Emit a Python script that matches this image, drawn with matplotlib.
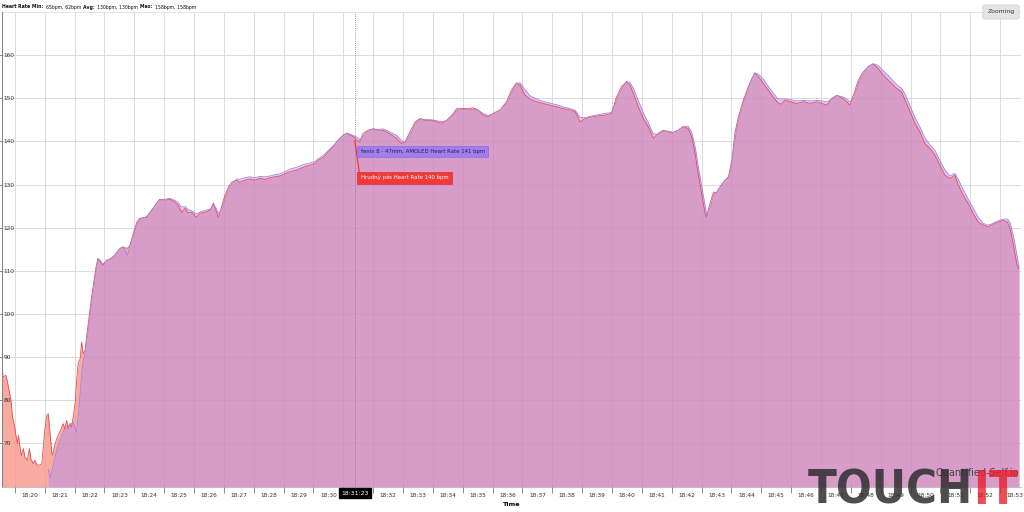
import matplotlib
matplotlib.use("Agg")
import matplotlib.pyplot as plt
from matplotlib.transforms import blended_transform_factory

# ---------------- data (seconds after 18:20:00, bpm) ----------------
chest_sec = [-26, -24, -18, -13, -8, -5, -1, 2, 5, 7, 10, 13, 17, 20, 25, 29, 32, 37, 40, 44,
             50, 54, 57, 60, 64, 67, 70, 74, 76, 79, 84, 90, 97, 100, 104, 107, 111, 114, 117,
             121, 124, 127, 131, 134, 137, 141, 144, 149, 154, 159, 163, 167, 171, 177, 184,
             191, 198, 204, 211, 218, 226,
             231, 238, 245, 251, 265, 275, 285, 291, 302, 312, 322, 328, 335, 342, 348, 355,
             365, 372, 382, 392, 399, 404, 409, 415, 422, 429, 436, 446, 452, 462, 472, 482,
             492, 503, 513, 523, 533, 543, 553, 566, 579, 593, 603, 610, 620, 630, 640, 650,
             660, 667, 673, 680, 687, 693, 700, 710, 720, 730, 740, 747, 757, 767, 777, 784,
             794, 804, 814, 824, 838, 848, 858, 868, 878, 888, 901, 911, 921, 931, 941, 951,
             961, 975, 988, 998, 1008, 1015, 1025, 1035, 1049, 1062, 1075, 1089, 1102, 1116,
             1126, 1136, 1146, 1159, 1172, 1186, 1199, 1209, 1219, 1229, 1236, 1243, 1253,
             1263, 1273, 1283, 1293, 1303, 1313, 1323, 1333, 1343, 1353, 1360, 1367, 1373,
             1380, 1387, 1390, 1397, 1404, 1410, 1417, 1427, 1434, 1441, 1447, 1454, 1464,
             1474, 1481, 1487, 1494, 1504, 1514, 1524, 1533, 1541, 1547, 1558, 1571, 1585,
             1598, 1612, 1622, 1632, 1642, 1652, 1662, 1672, 1678, 1685, 1695, 1705, 1715,
             1725, 1735, 1745, 1759, 1772, 1782, 1789, 1799, 1809, 1819, 1829, 1839, 1849,
             1859, 1869, 1879, 1889, 1896, 1906, 1916, 1926, 1936, 1946, 1956, 1966, 1976,
             1986, 1995, 2000, 2007, 2014, 2018]
chest_bpm = [88.0, 85.4, 85.8, 83.1, 80.0, 76.1, 74.2, 71.9, 70.0, 71.9, 69.2, 67.2, 68.8, 66.8,
             66.1, 68.8, 66.4, 65.3, 66.1, 65.0, 65.0, 65.3, 69.2, 73.0, 76.5, 76.9, 73.0, 68.0,
             67.2, 69.2, 71.1, 72.6, 74.6, 73.4, 75.3, 73.4, 74.6, 73.8, 76.1, 79.2, 84.6, 88.5,
             89.6, 93.5, 90.8, 91.6, 94.7, 99.3, 103.9, 107.8, 110.9, 112.9, 112.1, 111.3, 112.5,
             112.6, 113.2, 114.0, 115.2, 115.5, 115.2,
             115.9, 118.7, 121.3, 122.2, 122.4, 124.0, 125.7, 126.6, 126.4, 126.6, 125.9, 125.2,
             123.6, 124.5, 123.4, 123.6, 122.4, 123.4, 123.6, 124.0, 125.7, 124.0, 122.4, 124.8,
             127.5, 129.4, 130.6, 131.0, 130.5, 131.0, 131.3, 131.0, 131.5, 131.2, 131.6, 131.8,
             132.0, 132.5, 133.0, 133.3, 134.0, 134.5, 134.9, 135.7, 136.3, 137.6, 138.8, 140.3,
             141.5, 141.9, 141.5, 141.1, 140.3, 139.9, 141.9, 142.6, 142.9, 142.6, 142.6, 142.2,
             141.5, 140.7, 139.5, 139.9, 142.2, 144.5, 145.3, 144.9, 144.9, 144.5, 144.2, 144.9,
             146.1, 147.6, 147.6, 147.6, 147.8, 147.3, 146.1, 145.7, 146.5, 147.3, 149.2, 151.9,
             153.6, 153.1, 150.8, 149.8, 149.2, 148.8, 148.4, 148.0, 147.6, 147.3, 146.9, 144.5,
             145.3, 145.7, 145.9, 146.1, 146.5, 150.3, 152.7, 153.8, 153.1, 151.1, 148.0, 145.3,
             143.4, 140.7, 141.9, 142.6, 142.2, 142.0, 142.6, 143.4, 143.0, 141.1, 137.2, 132.6,
             127.9, 123.3, 122.5, 125.6, 128.3, 128.0, 129.5, 131.0, 131.8, 135.7, 141.9, 145.7,
             149.6, 152.7, 154.6, 155.8, 155.0, 153.5, 151.9, 150.3, 149.0, 148.6, 149.6, 149.2,
             148.8, 149.2, 148.8, 149.2, 148.8, 148.4, 150.0, 150.7, 150.1, 149.2, 148.4, 150.7,
             154.2, 156.1, 157.3, 158.0, 156.9, 155.4, 153.8, 152.3, 151.5, 149.6, 146.9, 144.2,
             142.2, 139.5, 138.4, 136.8, 134.5, 132.2, 131.4, 132.2, 129.9, 127.5, 125.6, 123.3,
             121.3, 120.6, 120.2, 120.9, 121.3, 121.7, 121.3, 119.8, 115.9, 111.3, 110.5]

fenix_sec = [67, 71, 76, 84, 90, 97, 104, 111, 117, 121, 124, 127, 131, 134, 137, 141, 144, 149,
             154, 159, 163, 167, 171, 177, 184, 191, 198, 204, 211, 218, 226,
             231, 238, 245, 251, 265, 275, 285, 291, 302, 312, 322, 328, 335, 342, 348, 355,
             365, 372, 382, 392, 399, 404, 409, 415, 422, 429, 436, 446, 452, 462, 472, 482,
             492, 503, 513, 523, 533, 543, 553, 566, 579, 593, 603, 610, 620, 630, 640, 650,
             660, 667, 673, 680, 687, 693, 700, 710, 720, 730, 740, 747, 757, 767, 777, 784,
             794, 804, 814, 824, 838, 848, 858, 868, 878, 888, 901, 911, 921, 931, 941, 951,
             961, 975, 988, 998, 1008, 1015, 1025, 1035, 1049, 1062, 1075, 1089, 1102, 1116,
             1126, 1136, 1146, 1159, 1172, 1186, 1199, 1209, 1219, 1229, 1236, 1243, 1253,
             1263, 1273, 1283, 1293, 1303, 1313, 1323, 1333, 1343, 1353, 1360, 1367, 1373,
             1380, 1387, 1390, 1397, 1404, 1410, 1417, 1427, 1434, 1441, 1447, 1454, 1464,
             1474, 1481, 1487, 1494, 1504, 1514, 1524, 1533, 1541, 1547, 1558, 1571, 1585,
             1598, 1612, 1622, 1632, 1642, 1652, 1662, 1672, 1678, 1685, 1695, 1705, 1715,
             1725, 1735, 1745, 1759, 1772, 1782, 1789, 1799, 1809, 1819, 1829, 1839, 1849,
             1859, 1869, 1879, 1889, 1896, 1906, 1916, 1926, 1936, 1946, 1956, 1966, 1976,
             1986, 1995, 2000, 2007, 2014, 2018]
fenix_bpm = [64.0, 62.0, 64.5, 68.5, 70.5, 72.8, 73.8, 74.4, 75.0, 73.5, 72.6, 76.5, 81.5, 86.0,
             89.0, 91.0, 93.5, 98.0, 102.5, 106.5, 110.0, 112.8, 112.5, 111.5, 112.3, 112.8,
             113.4, 114.2, 115.2, 115.6, 113.6,
             115.8, 118.2, 120.8, 122.0, 122.6, 124.2, 125.5, 126.4, 126.6, 126.8, 126.3, 125.8,
             124.8, 124.9, 124.2, 123.9, 123.2, 123.6, 124.0, 124.3, 125.2, 124.6, 123.4, 124.2,
             126.6, 128.8, 130.2, 131.3, 131.2, 131.6, 131.8, 131.6, 131.9, 131.8, 132.0, 132.3,
             132.5, 133.0, 133.6, 134.0, 134.6, 135.0, 135.4, 136.0, 136.8, 137.9, 139.0, 140.4,
             141.5, 141.9, 141.7, 141.4, 141.0, 140.4, 141.2, 142.4, 142.9, 142.8, 142.9, 142.6,
             142.0, 141.4, 140.2, 139.6, 141.4, 144.0, 145.2, 145.1, 145.0, 144.8, 144.6, 144.8,
             145.8, 147.2, 147.4, 147.3, 147.5, 147.2, 146.5, 146.0, 146.4, 147.2, 148.8, 151.2,
             153.4, 153.6, 152.0, 150.6, 149.8, 149.3, 148.9, 148.5, 148.0, 147.6, 147.2, 145.6,
             145.5, 145.9, 146.2, 146.5, 146.7, 149.4, 152.2, 153.9, 153.7, 152.3, 149.4, 146.6,
             144.3, 141.8, 141.6, 142.4, 142.4, 142.1, 142.6, 143.5, 143.5, 142.2, 138.8, 134.4,
             129.8, 125.2, 123.2, 124.4, 127.6, 128.2, 129.4, 131.0, 131.6, 134.6, 140.5, 144.9,
             149.0, 152.2, 154.4, 155.9, 155.6, 154.4, 152.8, 151.2, 149.9, 149.8, 149.9, 149.7,
             149.4, 149.5, 149.4, 149.5, 149.4, 149.2, 149.8, 150.6, 150.4, 149.8, 149.2, 150.0,
             153.4, 155.8, 157.4, 158.0, 157.6, 156.4, 154.8, 153.2, 152.3, 151.0, 148.2, 145.5,
             143.3, 140.8, 139.2, 137.9, 135.6, 133.4, 132.0, 132.6, 131.2, 128.8, 126.6, 124.5,
             122.4, 121.0, 120.6, 121.0, 121.6, 122.0, 122.0, 121.2, 118.0, 113.5, 111.0]

minute_ticks = list(range(20, 54))          # 18:20 ... 18:53
y_ticks = [70, 80, 90, 100, 110, 120, 130, 140, 150, 160]
cursor_sec = 683                              # 18:31:23
cursor_label = "18:31:23"
fenix_label = "fenix 8 - 47mm, AMOLED Heart Rate 141 bpm"
chest_label = "Hrudný pás Heart Rate 140 bpm"
title_parts = [("Heart Rate ", "bold"), ("Min: ", "bold"), ("65bpm, 62bpm ", "normal"),
               ("Avg: ", "bold"), ("130bpm, 130bpm ", "normal"), ("Max: ", "bold"),
               ("158bpm, 158bpm", "normal")]

# ---------------- figure ----------------
plt.rcParams['font.family'] = ['DejaVu Sans']
W, H = 1024, 512
fig = plt.figure(figsize=(W / 100, H / 100), dpi=100)
ax = fig.add_axes([2 / W, 1 - 487 / H, (1021 - 2) / W, (487 - 12) / H])

to_min = lambda s: 20 + s / 60.0
cx = [to_min(s) for s in chest_sec]
fx = [to_min(s) for s in fenix_sec]

YB = 59.9
# grid underneath (visible on white background)
for m in minute_ticks:
    ax.axvline(m, color="#e4e4e4", lw=0.7, zorder=0.5)
for v in y_ticks + [170]:
    ax.axhline(v, color="#e4e4e4", lw=0.7, zorder=0.5)

ax.fill_between(cx, chest_bpm, YB, color="#f9aba2", lw=0, zorder=1.0)
ax.fill_between(fx, fenix_bpm, YB, color="#b98ff0", alpha=0.5, lw=0, zorder=1.1)
ax.plot(cx, chest_bpm, color="#ec4c50", lw=0.6, zorder=1.5)
ax.plot(fx, fenix_bpm, color="#9a88e6", lw=0.6, zorder=1.6)

ax.set_xlim(to_min(-26), to_min(2022))
ax.set_ylim(YB, 170)

# ticks (faint grid on top of the fills)
ax.set_xticks(minute_ticks)
ax.set_xticklabels([])
ax.set_xticks([m + 0.5 for m in minute_ticks], minor=True)
ax.set_xticklabels(["" if m == 31 else f"18:{m:02d}" for m in minute_ticks], minor=True)
ax.tick_params(axis='x', which='major', length=4, width=0.6, color="#777777")
ax.tick_params(axis='x', which='minor', length=0, labelsize=4.2, pad=4.5, labelcolor="#333333")
ax.set_yticks(y_ticks)
ax.set_yticklabels([str(v) for v in y_ticks])
ax.tick_params(axis='y', length=3, width=0.6, color="#777777", labelsize=4.2,
               pad=-4, labelcolor="#333333")
for lbl in ax.get_yticklabels():
    lbl.set_horizontalalignment('left')
ax.set_axisbelow(False)
ax.grid(True, which='major', color="#000000", alpha=0.035, lw=0.6)
for side in ['top', 'right']:
    ax.spines[side].set_visible(False)
ax.spines['left'].set_color("#888888")
ax.spines['left'].set_linewidth(0.8)
ax.spines['bottom'].set_color("#bbbbbb")
ax.spines['bottom'].set_linewidth(0.6)

ax.set_xlabel("Time", fontsize=4.6, fontweight='bold', labelpad=3)

# cursor
cm = to_min(cursor_sec)
ax.axvline(cm, color="#777777", lw=0.6, ls=(0, (1, 1.5)), zorder=5)
trans = blended_transform_factory(ax.transData, ax.transAxes)
ax.text(cm, -0.0135, cursor_label, transform=trans, ha='center', va='center', fontsize=4.4,
        color='white', zorder=10, clip_on=False,
        bbox=dict(boxstyle='square,pad=0.4', fc='black', ec='black'))
ax.plot([cm, cm + 0.17], [140.2, 132.0], color="#ee3333", lw=0.8, zorder=6)
ax.text(cm + 0.2, 137.7, fenix_label, ha='left', va='center', fontsize=3.9, color="#222244",
        zorder=7, bbox=dict(boxstyle='square,pad=0.6', fc="#a37cf0", ec="#8d6ae0", lw=0.5))
ax.text(cm + 0.2, 131.6, chest_label, ha='left', va='center', fontsize=3.9, color="white",
        zorder=7, bbox=dict(boxstyle='square,pad=0.6', fc="#f03a3a", ec="#e03030", lw=0.5))

# title with mixed weights
renderer = fig.canvas.get_renderer()
xpix = 2
for txt, wt in title_parts:
    t = fig.text(xpix / W, 1 - 7 / H, txt, fontsize=3.3, fontweight=wt, ha='left', va='center',
                 color="#111111")
    xpix = t.get_window_extent(renderer).x1 + 0.5

# Zooming button
fig.text(1001 / W, 1 - 12 / H, "Zooming", fontsize=4.4, ha='center', va='center', color="#333333",
         bbox=dict(boxstyle='round,pad=0.75,rounding_size=0.3', fc="#e4e4e4", ec="#d0d0d0", lw=0.5))

# watermark
fig.text(977 / W, 1 - 473 / H, "Quantified-Self.io", fontsize=7, ha='center', va='center',
         color="#444444", zorder=20)
wm_font = dict(fontweight='bold', family=['DejaVu Sans'], fontstretch='condensed')
probe = fig.text(0, 0, "TOUCHIT", fontsize=42, **wm_font)
pw = probe.get_window_extent(renderer).width
probe.remove()
fs = 42 * 210.0 / pw
t1 = fig.text(808 / W, 1 - 504 / H, "TOUCH", fontsize=fs, ha='left', va='baseline',
              color="#2f2f2f", alpha=0.85, zorder=21, **wm_font)
x1 = t1.get_window_extent(renderer).x1
fig.text(x1 / W, 1 - 504 / H, "IT", fontsize=fs, ha='left', va='baseline',
         color="#e8202c", alpha=0.8, zorder=21, **wm_font)

fig.savefig("out.png", dpi=100)
